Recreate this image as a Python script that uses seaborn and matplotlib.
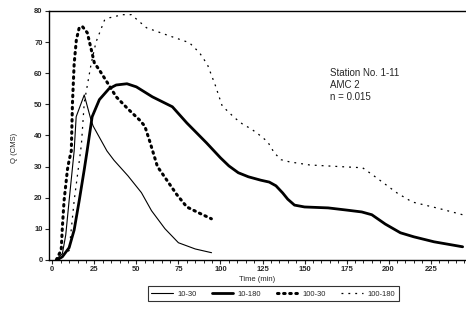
import matplotlib
matplotlib.use("Agg")
import matplotlib.pyplot as plt
import seaborn as sns
import pandas as pd
from matplotlib.ticker import MultipleLocator

# ---- data ----
t_10_30 = [2, 6, 8, 10, 13, 14.2, 19, 23, 24.3, 32.5, 36.7, 45, 53, 59, 67, 75, 85, 94.7]
q_10_30 = [0, 2, 8, 19, 35, 46, 53, 45, 43, 35, 32, 27, 21.6, 15.8, 10, 5.5, 3.5, 2.3]

t_10_180 = [3, 6, 10, 13, 16, 19, 20.7, 23.7, 28, 33.7, 38, 44.4, 50, 59.5, 71.4, 80, 91.7,
            100, 105, 110.6, 116.6, 124, 129, 133, 137, 140, 144, 150, 164, 175, 184, 190,
            198, 207, 215, 227, 244]
q_10_180 = [0, 1, 3.9, 9.6, 19, 29, 35, 46, 51.5, 55, 56.2, 56.6, 55.6, 52.4, 49.2, 44,
            37.6, 32.8, 30.2, 28, 26.7, 25.6, 25, 23.8, 21.5, 19.5, 17.6, 17, 16.7, 16,
            15.4, 14.5, 11.5, 8.7, 7.4, 5.8, 4.2]

t_100_30 = [2.4, 5.3, 6, 7, 9, 10, 11.3, 12, 13, 14.3, 16, 17.9, 20.8, 23, 25, 28, 32.7,
            38, 45, 51.8, 55, 58, 62.5, 68, 74, 80, 87.5, 94.6]
q_100_30 = [0, 3.2, 10.6, 19, 29, 32, 35, 50.5, 63, 70.7, 74.6, 75, 73, 68, 63.3, 61, 57,
            52.4, 48.5, 45, 43, 38, 30, 25.7, 21, 17, 15, 13.2]

t_100_180 = [3, 10, 13, 17.3, 19, 23.2, 26, 31, 34, 41.7, 47, 56, 68, 81.5, 87.5, 92.3, 97,
             101, 108.3, 113, 118.5, 123, 128, 132, 136, 141, 153, 170, 184.5, 190.5, 205,
             214, 230, 244]
q_100_180 = [0, 3, 19, 37, 50.5, 63.3, 70, 77, 77.8, 78.8, 78.8, 74.6, 72.3, 69.8, 66.6,
             62.7, 56, 49.5, 45.7, 43.7, 42, 40.2, 38, 34.4, 32.2, 31.5, 30.5, 30, 29.6,
             27.3, 21.5, 18.6, 16.5, 14.5]

labels = ["10-30", "10-180", "100-30", "100-180"]
x_ticks = [0, 25, 50, 75, 100, 125, 150, 175, 200, 225]
y_ticks = [0, 10, 20, 30, 40, 50, 60, 70, 80]

sns.set_style("ticks")
plt.rcParams['font.family'] = ['Liberation Sans', 'DejaVu Sans']

fig = plt.figure(figsize=(4.66, 3.22), dpi=100)
ax = fig.add_axes([0.105, 0.193, 0.895, 0.773])

series = [(t_10_30, q_10_30), (t_10_180, q_10_180), (t_100_30, q_100_30), (t_100_180, q_100_180)]
styles = [dict(lw=0.8, ls='-'),
          dict(lw=2.0, ls='-'),
          dict(lw=2.2, ls=(0, (0.5, 1.5)), dash_capstyle='round'),
          dict(lw=0.9, ls=(0, (1.5, 4)))]

for (t, q), lab, st in zip(series, labels, styles):
    df = pd.DataFrame({"t": t, "q": q})
    sns.lineplot(data=df, x="t", y="q", ax=ax, color="black", label=lab, sort=False, **st)

ax.set_xlim(-2, 246)
ax.set_ylim(0, 80)
ax.set_xticks(x_ticks)
ax.set_yticks(y_ticks)
ax.xaxis.set_minor_locator(MultipleLocator(5))
ax.tick_params(axis='both', which='major', labelsize=5.5, length=3, width=0.8, pad=1.5)
ax.tick_params(axis='x', which='minor', length=2, width=0.7)
for lab_ in ax.get_xticklabels() + ax.get_yticklabels():
    lab_.set_fontweight('bold')

for s in ['left', 'bottom', 'top']:
    ax.spines[s].set_visible(True)
    ax.spines[s].set_linewidth(1.0)
    ax.spines[s].set_color('black')
ax.spines['right'].set_visible(False)

ax.set_xlabel("Time (min)", fontsize=5.5, labelpad=2)
ax.set_ylabel("Q (CMS)", fontsize=5.5, labelpad=6)
ax.yaxis.set_label_coords(-0.075, 0.45)

ax.text(0.674, 0.77, "Station No. 1-11\nAMC 2\nn = 0.015", transform=ax.transAxes,
        ha='left', va='top', fontsize=7, linespacing=1.25)

handles, labs = ax.get_legend_handles_labels()
ax.get_legend().remove()
leg = fig.legend(handles, labs, loc='center', bbox_to_anchor=(0.586, 0.087), ncol=4,
                 fontsize=5.5, frameon=True, fancybox=False, edgecolor='black',
                 handlelength=2.8, columnspacing=2.0, borderpad=0.5, handletextpad=0.6)
leg.get_frame().set_linewidth(0.8)

fig.savefig("out.png", dpi=100)
